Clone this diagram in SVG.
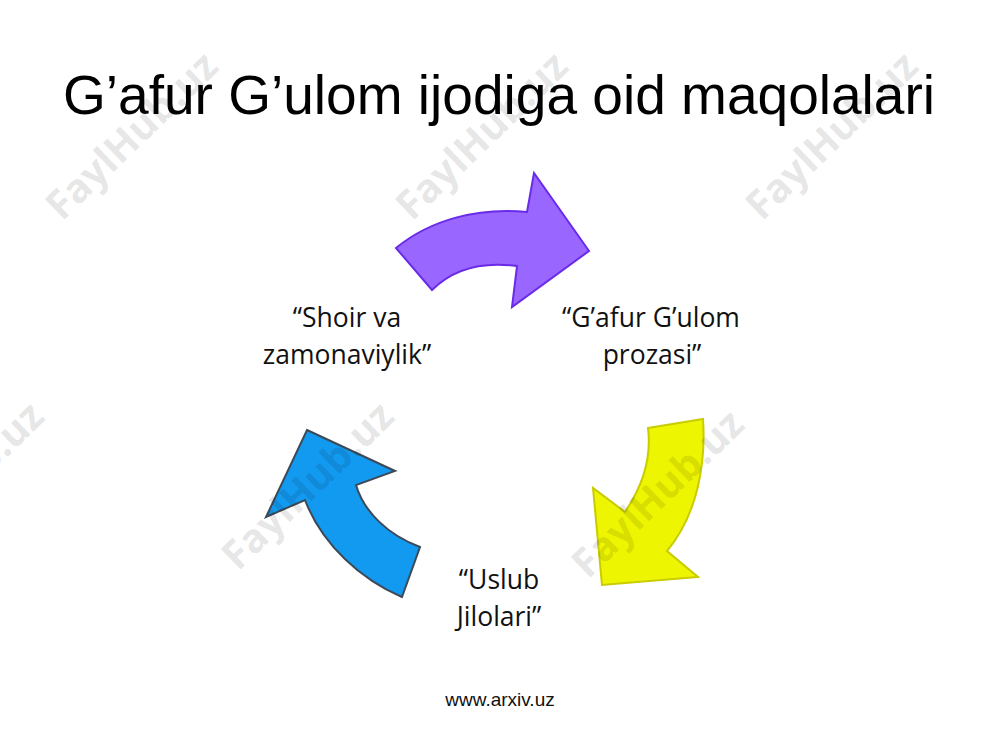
<svg xmlns="http://www.w3.org/2000/svg" width="1000" height="750" viewBox="0 0 1000 750">
<style>
.title{font-family:"Liberation Sans",Arial,sans-serif;font-size:55px;fill:#000}
.lbl{font-family:"Open Sans","Noto Sans",sans-serif;font-size:26.5px;fill:#111;text-anchor:middle}
.foot{font-family:"Liberation Sans",Arial,sans-serif;font-size:19px;fill:#111;text-anchor:middle}
.wm{font-family:"Open Sans","Liberation Sans",sans-serif;font-weight:bold;font-size:40px;fill:#000;fill-opacity:0.11}
.arrow{stroke-width:2;stroke-linejoin:miter}
</style>
<rect width="1000" height="750" fill="#fff"/>
<text class="title" x="63" y="114" textLength="872" lengthAdjust="spacingAndGlyphs">G’afur G’ulom ijodiga oid maqolalari</text>

<g id="connectors">
  <path id="arrow-purple" class="arrow" fill="#9966ff" stroke="#6a2be8" d="M396,248 C430,220 478,207 527,212 L534,173 L589,251 L512,307 L517,266 C480,261 452,270 432,290 Z"/>
  <path id="arrow-yellow" class="arrow" fill="#eef500" stroke="#c8cc00" d="M648,428 L703,419 C706,465 697,515 667,551 L698,577 L602,585 L593,488 L625,512 C642,487 652,460 648,428 Z"/>
  <path id="arrow-blue" class="arrow" fill="#1299f0" stroke="#3c4a58" d="M307,430 L395,471 L356,485 C364,512 388,535 420,547 L402,597 C362,580 322,545 305,500 L266,517 Z"/>
</g>

<g id="node-prozasi">
  <text class="lbl" x="651" y="327">“G’afur G’ulom</text>
  <text class="lbl" x="652" y="364">prozasi”</text>
</g>
<g id="node-uslub">
  <text class="lbl" x="499" y="589">“Uslub</text>
  <text class="lbl" x="499" y="626">Jilolari”</text>
</g>
<g id="node-shoir">
  <text class="lbl" x="347" y="327">“Shoir va</text>
  <text class="lbl" x="347" y="364">zamonaviylik”</text>
</g>

<text class="foot" x="500" y="706">www.arxiv.uz</text>

<g id="watermarks">
  <text class="wm" transform="translate(62,222) rotate(-44)">FaylHub.uz</text>
  <text class="wm" transform="translate(412,222) rotate(-44)">FaylHub.uz</text>
  <text class="wm" transform="translate(762,222) rotate(-44)">FaylHub.uz</text>
  <text class="wm" transform="translate(-112,572) rotate(-44)">FaylHub.uz</text>
  <text class="wm" transform="translate(238,572) rotate(-44)">FaylHub.uz</text>
  <text class="wm" transform="translate(588,580) rotate(-44)">FaylHub.uz</text>
</g>
</svg>
